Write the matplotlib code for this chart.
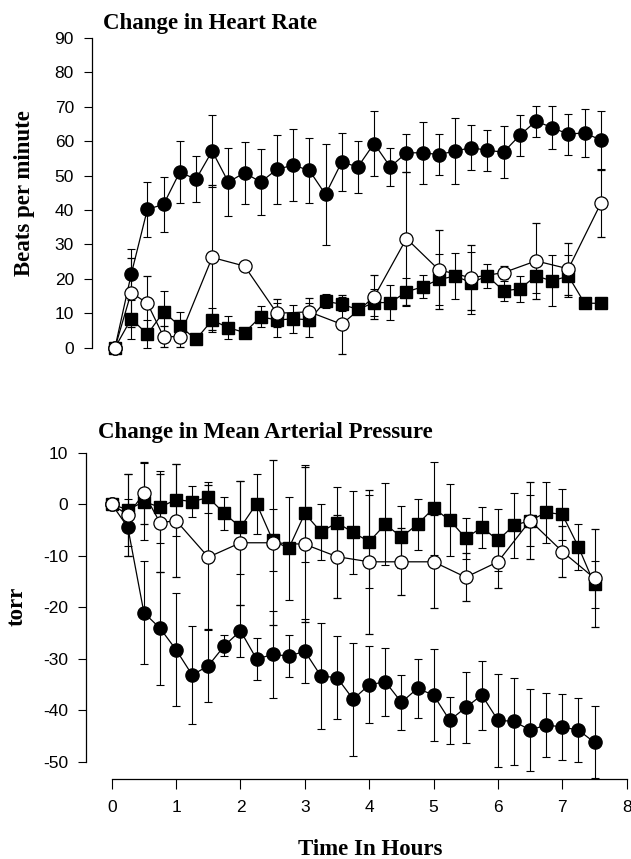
import matplotlib
matplotlib.use("Agg")
import matplotlib.pyplot as plt

plt.rcParams["axes.unicode_minus"] = False

# time points (hours)
t_q = [0, 0.25, 0.5, 0.75, 1.0, 1.25, 1.5, 1.75, 2.0, 2.25, 2.5, 2.75, 3.0,
       3.25, 3.5, 3.75, 4.0, 4.25, 4.5, 4.75, 5.0, 5.25, 5.5, 5.75, 6.0,
       6.25, 6.5, 6.75, 7.0, 7.25, 7.5]
t_h = [0, 0.25, 0.5, 0.75, 1.0, 1.5, 2.0, 2.5, 3.0, 3.5, 4.0, 4.5, 5.0,
       5.5, 6.0, 6.5, 7.0, 7.5]

# heart rate change (beats per minute)
hr_filled = [0, 21.3, 40.2, 41.6, 51.0, 48.9, 57.1, 48.1, 50.8, 48.1, 51.8, 53.0, 51.5,
             44.5, 53.9, 52.5, 59.3, 52.5, 56.6, 56.6, 56.1, 57.1, 58.1, 57.3, 56.8,
             61.7, 65.8, 63.9, 62.0, 62.4, 60.3]
hr_filled_err = [0, 7.5, 8, 8, 9, 6.7, 10.5, 10, 9, 9.5, 10, 10.5, 9.5,
                 14.7, 8.5, 7.5, 9.5, 5.5, 5.5, 9, 6, 9.5, 6.5, 6, 7.5,
                 6, 4.5, 6.3, 6, 7, 8.3]
hr_open = [0, 16.0, 12.9, 3.2, 3.2, 26.2, 23.7, 10.0, 10.4, 6.8, 14.7, 31.7, 22.6,
           20.3, 21.8, 25.2, 22.9, 41.9]
hr_open_err = [0, 10, 8, 3, 3, 21, 0, 4, 4, 8.5, 6.5, 19.3, 11.5,
               9.5, 2, 11, 7.5, 9.7]
hr_square = [0, 8.4, 3.9, 10.4, 6.3, 2.4, 8.0, 5.8, 4.4, 9.0, 8.0, 8.4, 8.1,
             13.5, 12.6, 11.1, 13.1, 13.1, 16.2, 17.7, 19.8, 20.8, 18.9, 20.8, 16.5,
             17.1, 20.8, 19.4, 20.8, 12.9, 12.9]
hr_square_err = [0, 6, 4, 6, 4, 0, 3.5, 3.4, 0, 3, 5, 4, 5,
                 2, 2, 0, 4, 5, 4, 3.3, 7.5, 6.8, 9, 3.4, 3,
                 3.7, 5, 7.4, 6, 0, 0]

# mean arterial pressure change (torr)
map_filled = [0, -4.5, -21.1, -24.1, -28.3, -33.2, -31.4, -27.5, -24.6, -30.1, -29.2, -29.5, -28.6,
              -33.4, -33.7, -37.9, -35.1, -34.5, -38.5, -35.8, -37.1, -42.0, -39.5, -37.1, -42.0,
              -42.2, -43.9, -42.9, -43.3, -43.9, -46.3]
map_filled_err = [0, 5.5, 10, 11, 11, 9.5, 7, 2, 5, 4, 8.5, 4, 6.2,
                  10.3, 8, 11, 7.5, 6.6, 5.4, 5.8, 9, 4.6, 6.9, 6.7, 9,
                  8.5, 8, 6.2, 6.5, 6.2, 7]
map_open = [0, -2.1, 2.1, -3.6, -3.2, -10.3, -7.5, -7.5, -7.8, -10.2, -11.2, -11.2, -11.2,
            -14.2, -11.2, -3.2, -9.2, -14.4]
map_open_err = [0, 8, 6, 9.5, 11, 14, 12, 16, 15, 8, 14, 6.5, 9,
                4.7, 5, 7.5, 5, 9.5]
map_square = [0, -1.1, 0.5, -0.6, 0.9, 0.5, 1.3, -1.8, -4.5, 0.1, -7.0, -8.6, -1.8,
              -5.4, -3.6, -5.5, -7.3, -3.9, -6.4, -3.9, -0.8, -3.1, -6.6, -4.5, -7.0,
              -4.1, -3.2, -1.6, -2.0, -8.3, -15.6]
map_square_err = [0, 7, 7.5, 7, 7, 3, 3, 3.2, 9, 5.8, 6, 10, 9.5,
                  5.5, 7, 8, 9, 8, 6, 5, 9, 7, 4, 4, 6,
                  6.3, 5, 6, 5, 4.4, 4.6]

W, H = 631, 859
fig = plt.figure(figsize=(W / 100, H / 100), dpi=100)
fig.patch.set_facecolor("white")

serif = {"family": "Liberation Serif", "weight": "bold"}
tick_font = "Liberation Sans"

eb = dict(color="black", ecolor="black", lw=0.9, elinewidth=0.8,
          capsize=2.6, capthick=0.8, clip_on=False)


def draw(ax, t1, y1, e1, t2, y2, e2, t3, y3, e3):
    ax.errorbar(t3, y3, yerr=e3, fmt="-s", ms=8.5, mfc="black", mec="black", **eb)
    ax.errorbar(t1, y1, yerr=e1, fmt="-o", ms=9.5, mfc="black", mec="black", **eb)
    ax.errorbar(t2, y2, yerr=e2, fmt="-o", ms=9.5, mfc="white", mec="black", mew=0.9, **eb)


# top panel
ax1 = fig.add_axes([92 / W, 1 - 358 / H, (626.7 - 92) / W, (358 - 37.8) / H])
draw(ax1, t_q, hr_filled, hr_filled_err, t_h, hr_open, hr_open_err,
     t_q, hr_square, hr_square_err)
ax1.set_xlim(-0.355, 7.9)
ax1.set_ylim(-3, 90)
ax1.set_yticks(range(0, 91, 10))
ax1.set_xticks([])
for s in ["top", "right", "bottom"]:
    ax1.spines[s].set_visible(False)
ax1.spines["left"].set_bounds(0, 90)
ax1.spines["left"].set_linewidth(0.9)
ax1.tick_params(axis="y", direction="out", length=6, width=0.8, pad=7, labelsize=12.5)
for lab in ax1.get_yticklabels():
    lab.set_family(tick_font)

# bottom panel
ax2 = fig.add_axes([86 / W, 1 - 779 / H, (626.7 - 86) / W, (779 - 452.7) / H])
draw(ax2, t_q, map_filled, map_filled_err, t_h, map_open, map_open_err,
     t_q, map_square, map_square_err)
ax2.set_xlim(-0.4, 8)
ax2.set_ylim(-53.4, 10)
ax2.set_yticks(range(-50, 11, 10))
ax2.set_xticks(range(0, 9))
for s in ["top", "right"]:
    ax2.spines[s].set_visible(False)
ax2.spines["left"].set_bounds(-50, 10)
ax2.spines["bottom"].set_bounds(0, 8)
ax2.spines["left"].set_linewidth(0.9)
ax2.spines["bottom"].set_linewidth(0.9)
ax2.tick_params(axis="y", direction="out", length=6, width=0.8, pad=7, labelsize=12.5)
ax2.tick_params(axis="x", direction="out", length=7, width=0.8, pad=8, labelsize=12.5)
for lab in ax2.get_yticklabels() + ax2.get_xticklabels():
    lab.set_family(tick_font)

# titles and axis labels
fig.text(103 / W, 1 - 29 / H, "Change in Heart Rate", fontdict=serif, fontsize=16.5,
         va="baseline", ha="left")
fig.text(98 / W, 1 - 438 / H, "Change in Mean Arterial Pressure", fontdict=serif,
         fontsize=16.5, va="baseline", ha="left")
fig.text(25 / W, 1 - 193 / H, "Beats per minute", fontdict=serif, fontsize=16.5,
         rotation=90, va="center", ha="center")
fig.text(17 / W, 1 - 606 / H, "torr", fontdict=serif, fontsize=16.5,
         rotation=90, va="center", ha="center")
fig.text(370 / W, 1 - 855 / H, "Time In Hours", fontdict=serif, fontsize=16.5,
         va="baseline", ha="center")

fig.savefig("out.png", dpi=100)
